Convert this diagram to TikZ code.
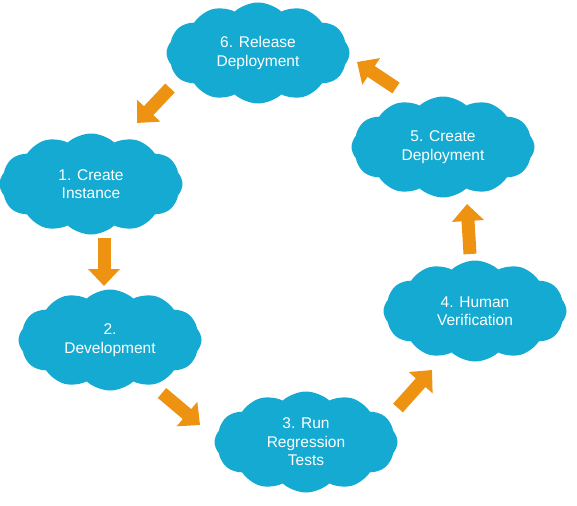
\documentclass[tikz,border=0pt]{standalone}
\usepackage{fontspec}
\setmainfont{Liberation Sans}
\usetikzlibrary{shapes.symbols}
\usetikzlibrary{arrows.meta}
\definecolor{cloudblue}{RGB}{20,170,210}
\definecolor{floworange}{RGB}{238,146,17}

\begin{document}
\begin{tikzpicture}[x=1pt,y=-1pt,
  stage/.style={cloud, cloud puffs=12, cloud puff arc=85, cloud ignores aspect,
    minimum width=183pt, minimum height=101pt, inner sep=0pt,
    fill=cloudblue, text=white, align=center,
    font=\fontsize{15.5}{18.5}\selectfont},
  flow/.style={floworange, line width=13pt, -{Triangle[width=31pt,length=17pt]}}]
\useasboundingbox (0,0) rectangle (577,505);
% stages
\node[stage] (c6) at (258,53) {6. Release\\Deployment};
\node[stage] (c1) at (91,184) {1. Create\\Instance};
\node[stage] (c2) at (110,340) {2.\\Development};
\node[stage] (c3) at (306,442) {3. Run\\Regression\\Tests};
\node[stage] (c4) at (475,311) {4. Human\\Verification};
\node[stage] (c5) at (443,147) {5. Create\\Deployment};
% arrow ends
\coordinate (a61) at (170,88);  \coordinate (b61) at (137,123);
\coordinate (a12) at (104,238); \coordinate (b12) at (104,286);
\coordinate (a23) at (162,393); \coordinate (b23) at (200,425);
\coordinate (a34) at (398,408); \coordinate (b34) at (432,370);
\coordinate (a45) at (470,254); \coordinate (b45) at (467,204);
\coordinate (a56) at (396,88);  \coordinate (b56) at (357,62);
\foreach \s/\t in {a61/b61,a12/b12,a23/b23,a34/b34,a45/b45,a56/b56}
  \draw[flow] (\s) -- (\t);
\end{tikzpicture}
\end{document}
